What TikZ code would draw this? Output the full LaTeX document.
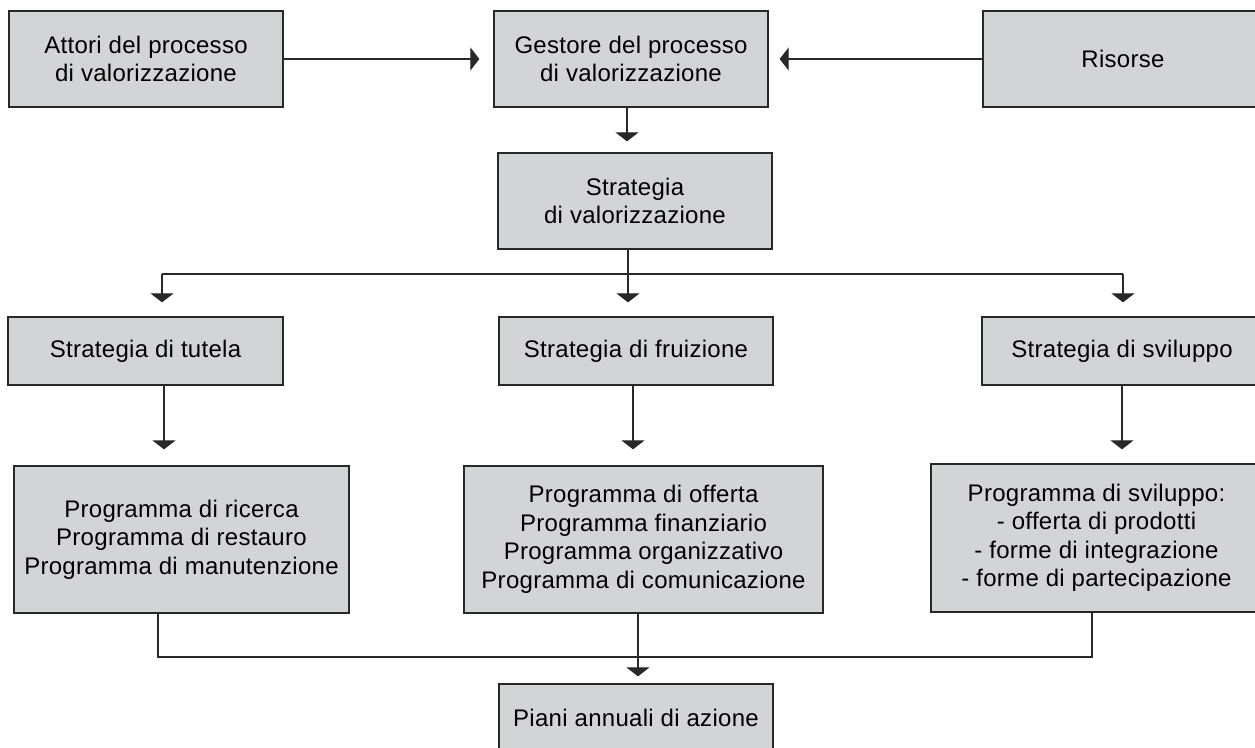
\documentclass[tikz,border=0pt]{standalone}
\usepackage{fontspec}
\setmainfont{Liberation Sans}[LetterSpace=1.2]
\usetikzlibrary{arrows.meta}
\definecolor{boxgray}{RGB}{211,212,214}
\definecolor{linegray}{RGB}{40,40,40}
\begin{document}
\begin{tikzpicture}[x=1pt,y=-1pt,
  box/.style={draw=linegray, line width=1.3pt, fill=boxgray, rectangle, align=center,
    inner sep=0pt, font=\fontsize{24}{28.5}\selectfont},
  conn/.style={draw=linegray, line width=1.1pt},
  arr/.style={conn, -{Triangle[width=23pt,length=9pt]}}]
\useasboundingbox (0,0) rectangle (1255,747);
\clip (0,0) rectangle (1255,747);

% top row
\node[box, minimum width=274pt, minimum height=96pt] (A) at (146,59) {Attori del processo\\di valorizzazione};
\node[box, minimum width=274pt, minimum height=96pt] (G) at (631,59) {Gestore del processo\\di valorizzazione};
\node[box, minimum width=280pt, minimum height=96pt] (R) at (1123,59) {Risorse};

\node[box, minimum width=274pt, minimum height=96pt] (SV) at (635,201) {Strategia\\di valorizzazione};

% strategies
\node[box, minimum width=275pt, minimum height=68pt] (ST) at (145.5,351) {Strategia di tutela};
\node[box, minimum width=274pt, minimum height=68pt] (SF) at (636,351) {Strategia di fruizione};
\node[box, minimum width=280pt, minimum height=68pt] (SS) at (1122,351) {Strategia di sviluppo};

% programmes
\node[box, minimum width=335pt, minimum height=147pt] (P1) at (181.5,539.5) {Programma di ricerca\\Programma di restauro\\Programma di manutenzione};
\node[box, minimum width=359pt, minimum height=147pt] (P2) at (643.5,539.5) {Programma di offerta\\Programma finanziario\\Programma organizzativo\\Programma di comunicazione};
\node[box, minimum width=331pt, minimum height=148pt] (P3) at (1096.5,538) {Programma di sviluppo:\\- offerta di prodotti\\- forme di integrazione\\- forme di partecipazione};

\node[box, minimum width=274pt, minimum height=68pt] (PA) at (636,718) {Piani annuali di azione};

% top connectors
\draw[arr, shorten >=14pt] (A.east) -- (G.west);
\draw[arr, shorten >=11pt] (R.west) -- (G.east);
\draw[arr, shorten >=11pt] ([xshift=-4pt]G.south) -- ([xshift=-4pt]G.south |- SV.north);

% branch to strategies
\coordinate (jl) at (162,274);
\coordinate (jr) at (1123,274);
\draw[conn] (jl) -- (jr);
\draw[arr, shorten >=14pt] ([xshift=-7pt]SV.south) -- ([xshift=-7pt]SV.south |- SF.north);
\draw[arr, shorten >=14pt] (jl) -- (jl |- ST.north);
\draw[arr, shorten >=14pt] (jr) -- (jr |- SS.north);

% strategies to programmes
\draw[arr, shorten >=16pt] ([xshift=18.5pt]ST.south) -- ([xshift=18.5pt]ST.south |- P1.north);
\draw[arr, shorten >=16pt] ([xshift=-3pt]SF.south) -- ([xshift=-3pt]SF.south |- P2.north);
\draw[arr, shorten >=14pt] (SS.south) -- (SS.south |- P3.north);

% programmes to annual plans
\coordinate (bl) at (158,657);
\coordinate (br) at (1092,657);
\draw[conn] ([xshift=-23.5pt]P1.south) -- (bl) -- (br) -- ([xshift=-4.5pt]P3.south);
\draw[arr, shorten >=7pt] ([xshift=-5.5pt]P2.south) -- ([xshift=-5.5pt]P2.south |- PA.north);
\end{tikzpicture}
\end{document}
